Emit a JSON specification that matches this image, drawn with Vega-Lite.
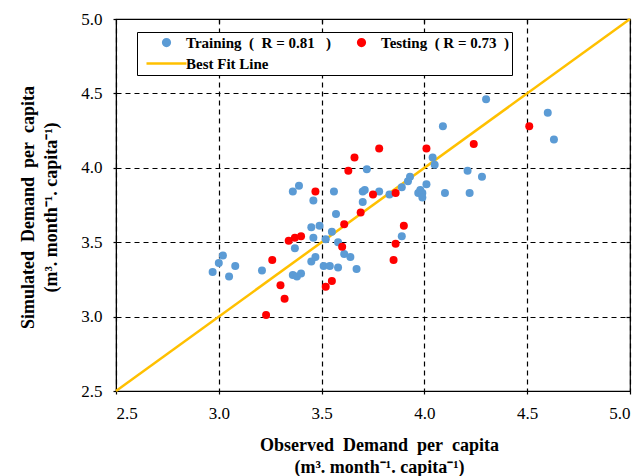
{
  "$schema": "https://vega.github.io/schema/vega-lite/v6.json",
  "width": 514,
  "height": 372,
  "autosize": {"type": "none"},
  "padding": {"left": 116, "top": 19, "right": 13, "bottom": 85},
  "background": "white",
  "datasets": {
    "points": [
      {"obs": 2.97, "sim": 3.30, "series": "Training\u00a0 (\u00a0 R = 0.81\u00a0\u00a0 )"},
      {"obs": 3.00, "sim": 3.36, "series": "Training\u00a0 (\u00a0 R = 0.81\u00a0\u00a0 )"},
      {"obs": 3.02, "sim": 3.41, "series": "Training\u00a0 (\u00a0 R = 0.81\u00a0\u00a0 )"},
      {"obs": 3.05, "sim": 3.27, "series": "Training\u00a0 (\u00a0 R = 0.81\u00a0\u00a0 )"},
      {"obs": 3.08, "sim": 3.34, "series": "Training\u00a0 (\u00a0 R = 0.81\u00a0\u00a0 )"},
      {"obs": 3.21, "sim": 3.31, "series": "Training\u00a0 (\u00a0 R = 0.81\u00a0\u00a0 )"},
      {"obs": 3.36, "sim": 3.84, "series": "Training\u00a0 (\u00a0 R = 0.81\u00a0\u00a0 )"},
      {"obs": 3.39, "sim": 3.88, "series": "Training\u00a0 (\u00a0 R = 0.81\u00a0\u00a0 )"},
      {"obs": 3.37, "sim": 3.46, "series": "Training\u00a0 (\u00a0 R = 0.81\u00a0\u00a0 )"},
      {"obs": 3.36, "sim": 3.28, "series": "Training\u00a0 (\u00a0 R = 0.81\u00a0\u00a0 )"},
      {"obs": 3.38, "sim": 3.27, "series": "Training\u00a0 (\u00a0 R = 0.81\u00a0\u00a0 )"},
      {"obs": 3.40, "sim": 3.29, "series": "Training\u00a0 (\u00a0 R = 0.81\u00a0\u00a0 )"},
      {"obs": 3.45, "sim": 3.60, "series": "Training\u00a0 (\u00a0 R = 0.81\u00a0\u00a0 )"},
      {"obs": 3.46, "sim": 3.53, "series": "Training\u00a0 (\u00a0 R = 0.81\u00a0\u00a0 )"},
      {"obs": 3.49, "sim": 3.61, "series": "Training\u00a0 (\u00a0 R = 0.81\u00a0\u00a0 )"},
      {"obs": 3.46, "sim": 3.78, "series": "Training\u00a0 (\u00a0 R = 0.81\u00a0\u00a0 )"},
      {"obs": 3.56, "sim": 3.84, "series": "Training\u00a0 (\u00a0 R = 0.81\u00a0\u00a0 )"},
      {"obs": 3.57, "sim": 3.69, "series": "Training\u00a0 (\u00a0 R = 0.81\u00a0\u00a0 )"},
      {"obs": 3.55, "sim": 3.57, "series": "Training\u00a0 (\u00a0 R = 0.81\u00a0\u00a0 )"},
      {"obs": 3.52, "sim": 3.52, "series": "Training\u00a0 (\u00a0 R = 0.81\u00a0\u00a0 )"},
      {"obs": 3.58, "sim": 3.50, "series": "Training\u00a0 (\u00a0 R = 0.81\u00a0\u00a0 )"},
      {"obs": 3.45, "sim": 3.37, "series": "Training\u00a0 (\u00a0 R = 0.81\u00a0\u00a0 )"},
      {"obs": 3.47, "sim": 3.40, "series": "Training\u00a0 (\u00a0 R = 0.81\u00a0\u00a0 )"},
      {"obs": 3.51, "sim": 3.34, "series": "Training\u00a0 (\u00a0 R = 0.81\u00a0\u00a0 )"},
      {"obs": 3.54, "sim": 3.34, "series": "Training\u00a0 (\u00a0 R = 0.81\u00a0\u00a0 )"},
      {"obs": 3.58, "sim": 3.33, "series": "Training\u00a0 (\u00a0 R = 0.81\u00a0\u00a0 )"},
      {"obs": 3.61, "sim": 3.42, "series": "Training\u00a0 (\u00a0 R = 0.81\u00a0\u00a0 )"},
      {"obs": 3.64, "sim": 3.40, "series": "Training\u00a0 (\u00a0 R = 0.81\u00a0\u00a0 )"},
      {"obs": 3.67, "sim": 3.32, "series": "Training\u00a0 (\u00a0 R = 0.81\u00a0\u00a0 )"},
      {"obs": 3.72, "sim": 3.99, "series": "Training\u00a0 (\u00a0 R = 0.81\u00a0\u00a0 )"},
      {"obs": 3.70, "sim": 3.84, "series": "Training\u00a0 (\u00a0 R = 0.81\u00a0\u00a0 )"},
      {"obs": 3.71, "sim": 3.85, "series": "Training\u00a0 (\u00a0 R = 0.81\u00a0\u00a0 )"},
      {"obs": 3.70, "sim": 3.77, "series": "Training\u00a0 (\u00a0 R = 0.81\u00a0\u00a0 )"},
      {"obs": 3.78, "sim": 3.84, "series": "Training\u00a0 (\u00a0 R = 0.81\u00a0\u00a0 )"},
      {"obs": 3.83, "sim": 3.82, "series": "Training\u00a0 (\u00a0 R = 0.81\u00a0\u00a0 )"},
      {"obs": 3.89, "sim": 3.87, "series": "Training\u00a0 (\u00a0 R = 0.81\u00a0\u00a0 )"},
      {"obs": 3.92, "sim": 3.91, "series": "Training\u00a0 (\u00a0 R = 0.81\u00a0\u00a0 )"},
      {"obs": 3.93, "sim": 3.94, "series": "Training\u00a0 (\u00a0 R = 0.81\u00a0\u00a0 )"},
      {"obs": 3.97, "sim": 3.83, "series": "Training\u00a0 (\u00a0 R = 0.81\u00a0\u00a0 )"},
      {"obs": 3.98, "sim": 3.85, "series": "Training\u00a0 (\u00a0 R = 0.81\u00a0\u00a0 )"},
      {"obs": 3.99, "sim": 3.83, "series": "Training\u00a0 (\u00a0 R = 0.81\u00a0\u00a0 )"},
      {"obs": 3.99, "sim": 3.80, "series": "Training\u00a0 (\u00a0 R = 0.81\u00a0\u00a0 )"},
      {"obs": 4.01, "sim": 3.89, "series": "Training\u00a0 (\u00a0 R = 0.81\u00a0\u00a0 )"},
      {"obs": 4.04, "sim": 4.07, "series": "Training\u00a0 (\u00a0 R = 0.81\u00a0\u00a0 )"},
      {"obs": 4.05, "sim": 4.02, "series": "Training\u00a0 (\u00a0 R = 0.81\u00a0\u00a0 )"},
      {"obs": 4.09, "sim": 4.28, "series": "Training\u00a0 (\u00a0 R = 0.81\u00a0\u00a0 )"},
      {"obs": 4.10, "sim": 3.83, "series": "Training\u00a0 (\u00a0 R = 0.81\u00a0\u00a0 )"},
      {"obs": 4.21, "sim": 3.98, "series": "Training\u00a0 (\u00a0 R = 0.81\u00a0\u00a0 )"},
      {"obs": 4.28, "sim": 3.94, "series": "Training\u00a0 (\u00a0 R = 0.81\u00a0\u00a0 )"},
      {"obs": 4.22, "sim": 3.83, "series": "Training\u00a0 (\u00a0 R = 0.81\u00a0\u00a0 )"},
      {"obs": 4.30, "sim": 4.46, "series": "Training\u00a0 (\u00a0 R = 0.81\u00a0\u00a0 )"},
      {"obs": 4.60, "sim": 4.37, "series": "Training\u00a0 (\u00a0 R = 0.81\u00a0\u00a0 )"},
      {"obs": 4.63, "sim": 4.19, "series": "Training\u00a0 (\u00a0 R = 0.81\u00a0\u00a0 )"},
      {"obs": 3.89, "sim": 3.54, "series": "Training\u00a0 (\u00a0 R = 0.81\u00a0\u00a0 )"},
      {"obs": 3.23, "sim": 3.01, "series": "Testing\u00a0 ( R = 0.73\u00a0 )\u00a0\u00a0\u00a0\u00a0\u00a0\u00a0"},
      {"obs": 3.30, "sim": 3.21, "series": "Testing\u00a0 ( R = 0.73\u00a0 )\u00a0\u00a0\u00a0\u00a0\u00a0\u00a0"},
      {"obs": 3.32, "sim": 3.12, "series": "Testing\u00a0 ( R = 0.73\u00a0 )\u00a0\u00a0\u00a0\u00a0\u00a0\u00a0"},
      {"obs": 3.26, "sim": 3.38, "series": "Testing\u00a0 ( R = 0.73\u00a0 )\u00a0\u00a0\u00a0\u00a0\u00a0\u00a0"},
      {"obs": 3.34, "sim": 3.51, "series": "Testing\u00a0 ( R = 0.73\u00a0 )\u00a0\u00a0\u00a0\u00a0\u00a0\u00a0"},
      {"obs": 3.37, "sim": 3.53, "series": "Testing\u00a0 ( R = 0.73\u00a0 )\u00a0\u00a0\u00a0\u00a0\u00a0\u00a0"},
      {"obs": 3.40, "sim": 3.54, "series": "Testing\u00a0 ( R = 0.73\u00a0 )\u00a0\u00a0\u00a0\u00a0\u00a0\u00a0"},
      {"obs": 3.47, "sim": 3.84, "series": "Testing\u00a0 ( R = 0.73\u00a0 )\u00a0\u00a0\u00a0\u00a0\u00a0\u00a0"},
      {"obs": 3.60, "sim": 3.47, "series": "Testing\u00a0 ( R = 0.73\u00a0 )\u00a0\u00a0\u00a0\u00a0\u00a0\u00a0"},
      {"obs": 3.61, "sim": 3.62, "series": "Testing\u00a0 ( R = 0.73\u00a0 )\u00a0\u00a0\u00a0\u00a0\u00a0\u00a0"},
      {"obs": 3.52, "sim": 3.20, "series": "Testing\u00a0 ( R = 0.73\u00a0 )\u00a0\u00a0\u00a0\u00a0\u00a0\u00a0"},
      {"obs": 3.55, "sim": 3.24, "series": "Testing\u00a0 ( R = 0.73\u00a0 )\u00a0\u00a0\u00a0\u00a0\u00a0\u00a0"},
      {"obs": 3.63, "sim": 3.98, "series": "Testing\u00a0 ( R = 0.73\u00a0 )\u00a0\u00a0\u00a0\u00a0\u00a0\u00a0"},
      {"obs": 3.66, "sim": 4.07, "series": "Testing\u00a0 ( R = 0.73\u00a0 )\u00a0\u00a0\u00a0\u00a0\u00a0\u00a0"},
      {"obs": 3.78, "sim": 4.13, "series": "Testing\u00a0 ( R = 0.73\u00a0 )\u00a0\u00a0\u00a0\u00a0\u00a0\u00a0"},
      {"obs": 3.69, "sim": 3.70, "series": "Testing\u00a0 ( R = 0.73\u00a0 )\u00a0\u00a0\u00a0\u00a0\u00a0\u00a0"},
      {"obs": 3.75, "sim": 3.82, "series": "Testing\u00a0 ( R = 0.73\u00a0 )\u00a0\u00a0\u00a0\u00a0\u00a0\u00a0"},
      {"obs": 3.86, "sim": 3.83, "series": "Testing\u00a0 ( R = 0.73\u00a0 )\u00a0\u00a0\u00a0\u00a0\u00a0\u00a0"},
      {"obs": 3.90, "sim": 3.61, "series": "Testing\u00a0 ( R = 0.73\u00a0 )\u00a0\u00a0\u00a0\u00a0\u00a0\u00a0"},
      {"obs": 3.86, "sim": 3.49, "series": "Testing\u00a0 ( R = 0.73\u00a0 )\u00a0\u00a0\u00a0\u00a0\u00a0\u00a0"},
      {"obs": 3.85, "sim": 3.38, "series": "Testing\u00a0 ( R = 0.73\u00a0 )\u00a0\u00a0\u00a0\u00a0\u00a0\u00a0"},
      {"obs": 4.01, "sim": 4.13, "series": "Testing\u00a0 ( R = 0.73\u00a0 )\u00a0\u00a0\u00a0\u00a0\u00a0\u00a0"},
      {"obs": 4.24, "sim": 4.16, "series": "Testing\u00a0 ( R = 0.73\u00a0 )\u00a0\u00a0\u00a0\u00a0\u00a0\u00a0"},
      {"obs": 4.51, "sim": 4.28, "series": "Testing\u00a0 ( R = 0.73\u00a0 )\u00a0\u00a0\u00a0\u00a0\u00a0\u00a0"}
    ]
  },
  "config": {
    "view": {"stroke": "black", "strokeWidth": 1.2},
    "axis": {
      "labelFont": "Liberation Serif",
      "labelFontSize": 17,
      "labelColor": "black",
      "titleFont": "Liberation Serif",
      "titleFontSize": 18,
      "titleFontWeight": "bold",
      "titleColor": "black",
      "domainColor": "black",
      "tickColor": "black",
      "tickSize": 3,
      "tickWidth": 1.2,
      "gridColor": "black",
      "gridDash": [5, 4],
      "gridWidth": 1.2,
      "gridOpacity": 1
    }
  },
  "layer": [
    {
      "data": {"values": [
        {"obs": 2.5, "sim": 2.5, "series": "Best Fit Line"},
        {"obs": 5.0, "sim": 5.0, "series": "Best Fit Line"}
      ]},
      "mark": {"type": "line", "strokeWidth": 2.5},
      "encoding": {
        "x": {"field": "obs", "type": "quantitative", "scale": {"domain": [2.5, 5.0], "nice": false, "zero": false},
              "axis": {"orient": "top", "labels": false, "title": null, "grid": false, "domain": false, "tickSize": -4, "values": [3, 3.5, 4, 4.5]}},
        "y": {"field": "sim", "type": "quantitative", "scale": {"domain": [2.5, 5.0], "nice": false, "zero": false},
              "axis": {"orient": "right", "labels": false, "title": null, "grid": false, "domain": false, "tickSize": -4, "values": [3, 3.5, 4, 4.5]}},
        "color": {"field": "series", "type": "nominal",
          "scale": {"domain": ["Training\u00a0 (\u00a0 R = 0.81\u00a0\u00a0 )", "Testing\u00a0 ( R = 0.73\u00a0 )\u00a0\u00a0\u00a0\u00a0\u00a0\u00a0", "Best Fit Line"], "range": ["#5B9BD5", "#FF0000", "#FFC000"]},
          "legend": {
            "title": null,
            "orient": "none",
            "direction": "horizontal",
            "legendX": 21,
            "legendY": 13,
            "columns": 2,
            "columnPadding": 4,
            "rowPadding": 5,
            "padding": 3,
            "fillColor": "white",
            "strokeColor": "black",
            "labelFont": "Liberation Serif",
            "labelFontWeight": "bold",
            "labelFontSize": 15,
            "labelColor": "black",
            "symbolSize": 45,
            "symbolOffset": 19,
            "labelOffset": 12,
            "encode": {
              "symbols": {"update": {
                "shape": {"signal": "datum.value === 'Best Fit Line' ? 'stroke' : 'circle'"},
                "size": {"signal": "datum.value === 'Best Fit Line' ? 1600 : 45"},
                "fill": {"signal": "datum.value === 'Best Fit Line' ? 'transparent' : scale('color', datum.value)"},
                "stroke": {"signal": "datum.value === 'Best Fit Line' ? '#FFC000' : 'transparent'"},
                "strokeWidth": {"value": 2.5},
                "opacity": {"value": 1}
              }}
            }
          }
        }
      }
    },
    {
      "data": {"name": "points"},
      "mark": {"type": "circle", "size": 64, "opacity": 1},
      "encoding": {
        "x": {"field": "obs", "type": "quantitative",
              "axis": {"orient": "bottom", "grid": true, "values": [2.5, 3, 3.5, 4, 4.5, 5], "format": ".1f", "labelPadding": 11,
                       "title": ["Observed\u00a0 Demand\u00a0 per\u00a0 capita", "(m³. month⁻¹. capita⁻¹)"], "titleLineHeight": 22.5,
                       "titleBaseline": "top", "titleX": 263, "titleY": 45, "titleAlign": "center"}},
        "y": {"field": "sim", "type": "quantitative",
              "axis": {"orient": "left", "grid": true, "values": [2.5, 3, 3.5, 4, 4.5, 5], "format": ".1f", "labelPadding": 11,
                       "title": ["Simulated\u00a0 Demand\u00a0 per\u00a0 capita", "(m³. month⁻¹. capita⁻¹)"], "titleLineHeight": 23,
                       "titleAngle": -90, "titleBaseline": "top", "titleAlign": "center", "titleX": -97, "titleY": 188}},
        "color": {"field": "series", "type": "nominal"}
      }
    }
  ],
  "resolve": {"axis": {"x": "independent", "y": "independent"}}
}
